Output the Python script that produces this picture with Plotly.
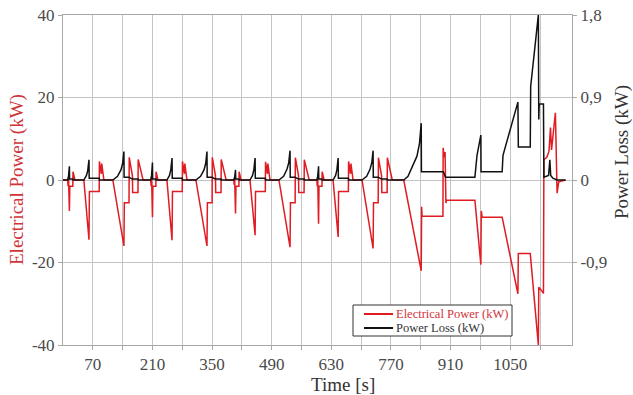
import plotly.graph_objects as go

# ---------------- data ----------------
# Electrical power (kW) -- four ECE urban cycles + EUDC
ece1_t_p = [0, 11, 12, 13, 15, 16, 23, 23.5, 28, 49, 61, 62, 85, 85.5, 90, 91, 96, 117, 143, 144, 155, 155.5, 163, 163.5, 176, 176.5, 188]
ece1_p = [0, 0, -1.5, 0.8, -7.5, -1.5, -1.5, 2, 0, 0, -14.5, -2.8, -2.8, 4.5, 1.5, 4, 0, 0, -16, -5.5, -5.5, 5.5, 1, -3, -3, 5, 0]

ece2_t_p = [195, 206, 207, 208, 210, 211, 218, 218.5, 223, 244, 256, 257, 280, 280.5, 285, 286, 291, 312, 338, 339, 350, 350.5, 358, 358.5, 371, 371.5, 383]
ece2_p = [0, 0, -1.5, 0.8, -9, -1.5, -1.5, 2, 0, 0, -14.6, -2.8, -2.8, 4.5, 1.5, 4, 0, 0, -16, -5.5, -5.5, 5.5, 1, -3, -3, 5, 0]

ece3_t_p = [390, 401, 402, 403, 405, 406, 413, 413.5, 418, 439, 451, 452, 475, 475.5, 480, 481, 486, 507, 533, 534, 545, 545.5, 553, 553.5, 566, 566.5, 578]
ece3_p = [0, 0, -1.2, 0.6, -8.1, -1.5, -1.5, 2, 0, 0, -13.4, -2.8, -2.8, 4.4, 1.5, 4, 0, 0, -16.3, -5.5, -5.5, 5.4, 1, -3, -3, 4.9, 0]

ece4_t_p = [585, 596, 597, 598, 600, 601, 608, 608.5, 613, 634, 646, 647, 670, 670.5, 675, 676, 681, 702, 728, 729, 740, 740.5, 748, 748.5, 761, 761.5, 773]
ece4_p = [0, 0, -1.5, 0.8, -10.6, -1.5, -1.5, 2, 0, 0, -13.8, -2.8, -2.8, 4.5, 1.5, 4, 0, 0, -16.6, -5.5, -5.5, 5.4, 1, -3, -3, 5.4, 0]

eudc_t_p = [780, 800, 841, 842, 843, 892, 892.5, 895, 897, 899, 900, 967, 968, 981, 982, 984, 1031, 1068, 1069, 1097,
            1116, 1117, 1125, 1128, 1129, 1136, 1141, 1144.5, 1147, 1156, 1160, 1164, 1180]
eudc_p = [0, 0, -22, -6.5, -8.8, -8.8, 7.8, 5.5, 6.8, -5.6, -4.9, -4.9, -6, -20.5, -7.5, -9, -9, -27.6, -17.8, -17.8,
          -40, -26, -27, -27.5, 4.9, 5.5, 7, 12.7, 7.3, 16.3, -3.2, -0.4, 0]

# Power loss (kW)
ece1_t_l = [0, 11, 13, 15, 15.5, 23, 23.5, 49, 55, 58, 61, 61.5, 85, 85.5, 117, 128, 136, 140, 143, 143.5, 155, 163, 176, 176.5]
ece1_l = [0, 0, 0.04, 0.15, 0.01, 0.01, 0, 0, 0.05, 0.1, 0.22, 0.02, 0.02, 0, 0, 0.04, 0.11, 0.18, 0.31, 0.03, 0.03, 0.01, 0.01, 0]

ece2_t_l = [195, 206, 208, 210, 210.5, 218, 218.5, 244, 250, 253, 256, 256.5, 280, 280.5, 312, 323, 331, 335, 338, 338.5, 350, 358, 371, 371.5]
ece2_l = [0, 0, 0.05, 0.19, 0.01, 0.01, 0, 0, 0.05, 0.11, 0.24, 0.02, 0.02, 0, 0, 0.04, 0.11, 0.18, 0.31, 0.03, 0.03, 0.01, 0.01, 0]

ece3_t_l = [390, 401, 403, 405, 405.5, 413, 413.5, 439, 445, 448, 451, 451.5, 475, 475.5, 507, 518, 526, 530, 533, 533.5, 545, 553, 566, 566.5]
ece3_l = [0, 0, 0.03, 0.11, 0.01, 0.01, 0, 0, 0.05, 0.11, 0.24, 0.02, 0.02, 0, 0, 0.04, 0.12, 0.19, 0.32, 0.03, 0.03, 0.01, 0.01, 0]

ece4_t_l = [585, 596, 598, 600, 600.5, 608, 608.5, 634, 640, 643, 646, 646.5, 670, 670.5, 702, 713, 721, 725, 728, 728.5, 740, 748, 761, 761.5]
ece4_l = [0, 0, 0.04, 0.15, 0.01, 0.01, 0, 0, 0.05, 0.11, 0.24, 0.02, 0.02, 0, 0, 0.04, 0.12, 0.19, 0.32, 0.03, 0.03, 0.01, 0.01, 0]

eudc_t_l = [780, 800, 810, 820, 831, 837, 841, 841.5, 893, 898, 967, 972, 981, 981.5, 1031, 1033, 1068, 1069, 1097, 1098,
            1116, 1117, 1118, 1128, 1129, 1140, 1143, 1145, 1150, 1160, 1180]
eudc_l = [0, 0, 0.04, 0.15, 0.26, 0.4, 0.62, 0.09, 0.09, 0.03, 0.03, 0.27, 0.49, 0.09, 0.09, 0.27, 0.85, 0.36, 0.36, 1.02,
          1.8, 0.66, 0.83, 0.83, 0.03, 0.05, 0.22, 0.05, 0.02, 0, 0]

x_tick_vals = [70, 140, 210, 280, 350, 420, 490, 560, 630, 700, 770, 840, 910, 980, 1050, 1120]
x_tick_text = ["70", "", "210", "", "350", "", "490", "", "630", "", "770", "", "910", "", "1050", ""]
y_tick_vals = [-40, -20, 0, 20, 40]
y_tick_text = ["-40", "-20", "0", "20", "40"]
y2_tick_vals = [-0.9, 0, 0.9, 1.8]
y2_tick_text = ["-0,9", "0", "0,9", "1,8"]

series_names = ["Electrical Power (kW)", "Power Loss (kW)"]

time_power = ece1_t_p + ece2_t_p + ece3_t_p + ece4_t_p + eudc_t_p
power = ece1_p + ece2_p + ece3_p + ece4_p + eudc_p
time_loss = ece1_t_l + ece2_t_l + ece3_t_l + ece4_t_l + eudc_t_l
loss = ece1_l + ece2_l + ece3_l + ece4_l + eudc_l

RED = "#e01b22"
RED_TXT = "#d0343a"
BLACK = "#111111"
GRID = "#c4c4c4"
AXIS = "#a8a8a8"
TXT = "#4a4a4a"
FONT = "Liberation Serif, Times New Roman, serif"
TICKFONT = dict(family=FONT, size=17, color=TXT)

L, R, T, B = 63, 61, 15, 50
W, H = 633, 395
plot_w = W - L - R
plot_h = H - T - B


def px(xp):
    return (xp - L) / plot_w


def py(yp):
    return (H - B - yp) / plot_h


fig = go.Figure()
fig.add_trace(go.Scatter(
    x=time_power, y=power, mode="lines", name=series_names[0],
    line=dict(color=RED, width=1.5)))
fig.add_trace(go.Scatter(
    x=time_loss, y=loss, mode="lines", yaxis="y2", name=series_names[1],
    line=dict(color=BLACK, width=1.5)))

# compact boxed legend (drawn in paper space, like the reference)
leg_shapes = [
    dict(type="rect", xref="paper", yref="paper", x0=px(353), x1=px(512), y0=py(336), y1=py(305),
         line=dict(color="#333333", width=1), fillcolor="white", layer="above"),
    dict(type="line", xref="paper", yref="paper", x0=px(364), x1=px(393), y0=py(314), y1=py(314),
         line=dict(color=RED, width=2), layer="above"),
    dict(type="line", xref="paper", yref="paper", x0=px(364), x1=px(393), y0=py(328), y1=py(328),
         line=dict(color=BLACK, width=2), layer="above"),
]
leg_annots = [
    dict(text=series_names[0], x=px(394), y=py(313.5), xref="paper", yref="paper",
         xanchor="left", yanchor="middle", showarrow=False,
         font=dict(family=FONT, size=12.5, color=RED_TXT)),
    dict(text=series_names[1], x=px(394), y=py(328), xref="paper", yref="paper",
         xanchor="left", yanchor="middle", showarrow=False,
         font=dict(family=FONT, size=12.5, color="#333333")),
]

fig.update_layout(
    width=W, height=H,
    margin=dict(l=L, r=R, t=T, b=B, autoexpand=False),
    paper_bgcolor="white", plot_bgcolor="white",
    font=dict(family=FONT, size=17, color=TXT),
    showlegend=False,
    xaxis=dict(range=[0, 1195], tickmode="array", tickvals=x_tick_vals, ticktext=x_tick_text,
               tickfont=TICKFONT, automargin=False,
               showgrid=True, gridcolor=GRID, gridwidth=1, zeroline=False,
               showline=True, linecolor=AXIS, linewidth=1, mirror=True,
               ticks="outside", ticklen=4, tickcolor=AXIS, tickangle=0),
    yaxis=dict(range=[-40, 40], tickmode="array", tickvals=y_tick_vals, ticktext=y_tick_text,
               tickfont=TICKFONT, automargin=False,
               showgrid=True, gridcolor=GRID, gridwidth=1, zeroline=False,
               showline=True, linecolor=AXIS, linewidth=1, mirror=True,
               ticks="outside", ticklen=4, tickcolor=AXIS),
    yaxis2=dict(range=[-1.8, 1.8], overlaying="y", side="right", tickmode="array",
                tickvals=y2_tick_vals, ticktext=y2_tick_text,
                tickfont=TICKFONT, automargin=False,
                showgrid=False, zeroline=False, showline=True, linecolor=AXIS, linewidth=1,
                ticks="outside", ticklen=4, tickcolor=AXIS),
    shapes=leg_shapes,
    annotations=[
        dict(text="Time [s]", x=px(343), y=py(384),
             xref="paper", yref="paper",
             xanchor="center", yanchor="middle", showarrow=False,
             font=dict(family=FONT, size=19, color="#333333")),
        dict(text="Electrical Power (kW)", x=px(17), y=0.5,
             xref="paper", yref="paper",
             showarrow=False, textangle=-90, xanchor="center", yanchor="middle",
             font=dict(family=FONT, size=19, color=RED_TXT)),
        dict(text="Power Loss (kW)", x=px(622), y=py(152),
             xref="paper", yref="paper",
             showarrow=False, textangle=-90, xanchor="center", yanchor="middle",
             font=dict(family=FONT, size=19, color="#333333")),
    ] + leg_annots,
)

fig.write_html("out.html", config={"displayModeBar": False},
               post_script="document.body.style.margin='0';document.body.style.overflow='hidden';")
